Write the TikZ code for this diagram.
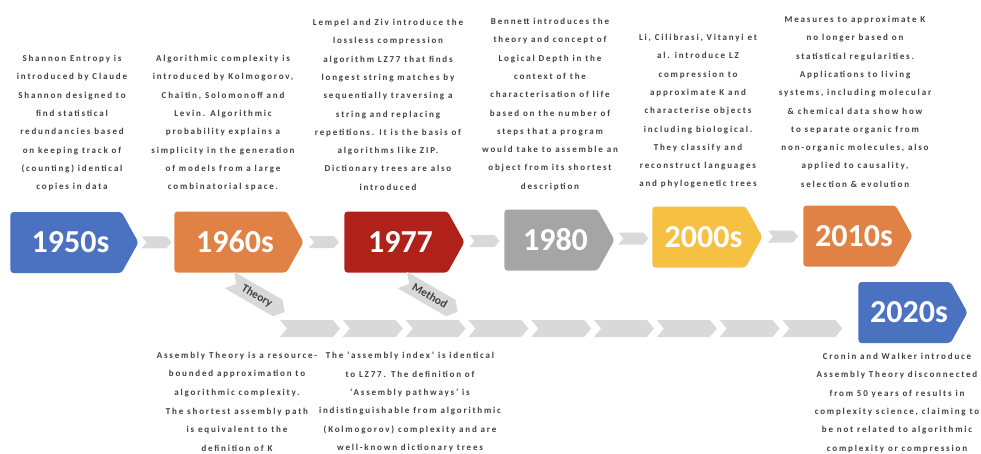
\documentclass[tikz,border=0pt]{standalone}
\usepackage{fontspec}
\setmainfont{Carlito}
\newfontfamily\notefont[LetterSpace=20]{Carlito}
\usetikzlibrary{shapes.symbols,positioning,calc}

\definecolor{yrblue}{RGB}{74,114,192}
\definecolor{yrorange}{RGB}{224,130,70}
\definecolor{yrred}{RGB}{176,33,26}
\definecolor{yrgray}{RGB}{165,165,165}
\definecolor{yryellow}{RGB}{246,193,66}
\definecolor{linkgray}{RGB}{217,217,217}
\definecolor{notegray}{RGB}{64,64,64}

\tikzset{
  year/.style={signal, signal to=east, signal pointer angle=122, fill=#1,
    text=white, font=\bfseries\fontsize{32}{32}\selectfont,
    execute at begin node=\hspace*{9pt},
    minimum height=61pt, rounded corners=3pt, inner sep=0pt},
  link/.style={signal, signal from=west, signal to=east, signal pointer angle=100,
    fill=linkgray, minimum width=30pt, minimum height=12pt, inner sep=0pt},
  track/.style={link, minimum width=60pt, minimum height=17pt,
    text=notegray, font=\bfseries\fontsize{11.5}{11.5}\selectfont},
  note/.style={align=center, text=notegray, inner sep=0pt, anchor=north,
    font=\notefont\bfseries\fontsize{9}{18.3}\selectfont}}

\begin{document}
\begin{tikzpicture}[x=1pt, y=-1pt]
  \useasboundingbox (0,0) rectangle (981,453);

  % the years
  \node[year=yrblue, minimum width=128pt] (y1950) at (66,242.5) {1950s};
  \node[year=yrorange, minimum width=129pt] (y1960) at (230.5,242) {1960s};
  \node[year=yrred, minimum width=120pt] (y1977) at (396,242) {1977};
  \node[year=yrgray, minimum width=110pt] (y1980) at (551,240) {1980};
  \node[year=yryellow, minimum width=110pt] (y2000) at (699,237) {2000s};
  \node[year=yrorange, minimum width=109pt] (y2010) at (849.5,236) {2010s};
  \node[year=yrblue, minimum width=109pt] (y2020) at (904.5,312.5) {2020s};

  % links between the years
  \node[link] (l1) at ($(y1950.east)!0.5!(y1960.west)$) {};
  \node[link] (l2) at ($(y1960.east)!0.5!(y1977.west)$) {};
  \node[link] (l3) at ($(y1977.east)!0.5!(y1980.west)$) {};
  \node[link] (l4) at ($(y1980.east)!0.5!(y2000.west)$) {};
  \node[link] (l5) at ($(y2000.east)!0.5!(y2010.west)$) {};

  % lower track
  \foreach \i in {0,...,8}
    \node[track] (t\i) at (310+62.8*\i,328.5) {};
  \node[track, rotate=-30, minimum width=64pt, minimum height=19pt] (theory) at (257,296) {Theory};
  \node[track, rotate=-30, minimum width=64pt, minimum height=19pt] (method) at (430,296) {Method};

  % notes above
  \node[note] (n1950) at (72,55) {Shannon Entropy is\\ introduced by Claude\\
    Shannon designed to\\ find statistical\\ redundancies based\\
    on keeping track of\\ (counting) identical\\ copies in data};
  \node[note] (n1960) at (223,55) {Algorithmic complexity is\\
    introduced by Kolmogorov,\\ Chaitin, Solomonoff and\\ Levin. Algorithmic\\
    probability explains a\\ simplicity in the generation\\
    of models from a large\\ combinatorial space.};
  \node[note] (n1977) at (388,19) {Lempel and Ziv introduce the\\
    lossless compression\\ algorithm LZ77 that finds\\
    longest string matches by\\ sequentially traversing a\\
    string and replacing\\ repetitions. It is the basis of\\
    algorithms like ZIP.\\ Dictionary trees are also\\ introduced};
  \node[note] (n1980) at (550,18) {Bennett introduces the\\
    theory and concept of\\ Logical Depth in the\\ context of the\\
    characterisation of life\\ based on the number of\\
    steps that a program\\ would take to assemble an\\
    object from its shortest\\ description};
  \node[note] (n2000) at (698,34) {Li, Cilibrasi, Vitanyi et\\
    al. introduce LZ\\ compression to\\ approximate K and\\
    characterise objects\\ including biological.\\ They classify and\\
    reconstruct languages\\ and phylogenetic trees};
  \node[note] (n2010) at (855,16) {Measures to approximate K\\
    no longer based on\\ statistical regularities.\\ Applications to living\\
    systems, including molecular\\ \& chemical data show how\\
    to separate organic from\\ non-organic molecules, also\\
    applied to causality,\\ selection \& evolution};

  % notes below
  \node[note] (ntheory) at (237,352) {Assembly Theory is a resource-\\
    bounded approximation to\\ algorithmic complexity.\\[1pt]
    The shortest assembly path\\ is equivalent to the\\ definition of K};
  \node[note] (nmethod) at (410,352) {The ‘assembly index’ is identical\\
    to LZ77. The definition of\\ ‘Assembly pathways’ is\\
    indistinguishable from algorithmic\\ (Kolmogorov) complexity and are\\
    well-known dictionary trees};
  \node[note] (n2020) at (897,353) {Cronin and Walker introduce\\
    Assembly Theory disconnected\\ from 50 years of results in\\
    complexity science, claiming to\\ be not related to algorithmic\\
    complexity or compression};
\end{tikzpicture}
\end{document}
